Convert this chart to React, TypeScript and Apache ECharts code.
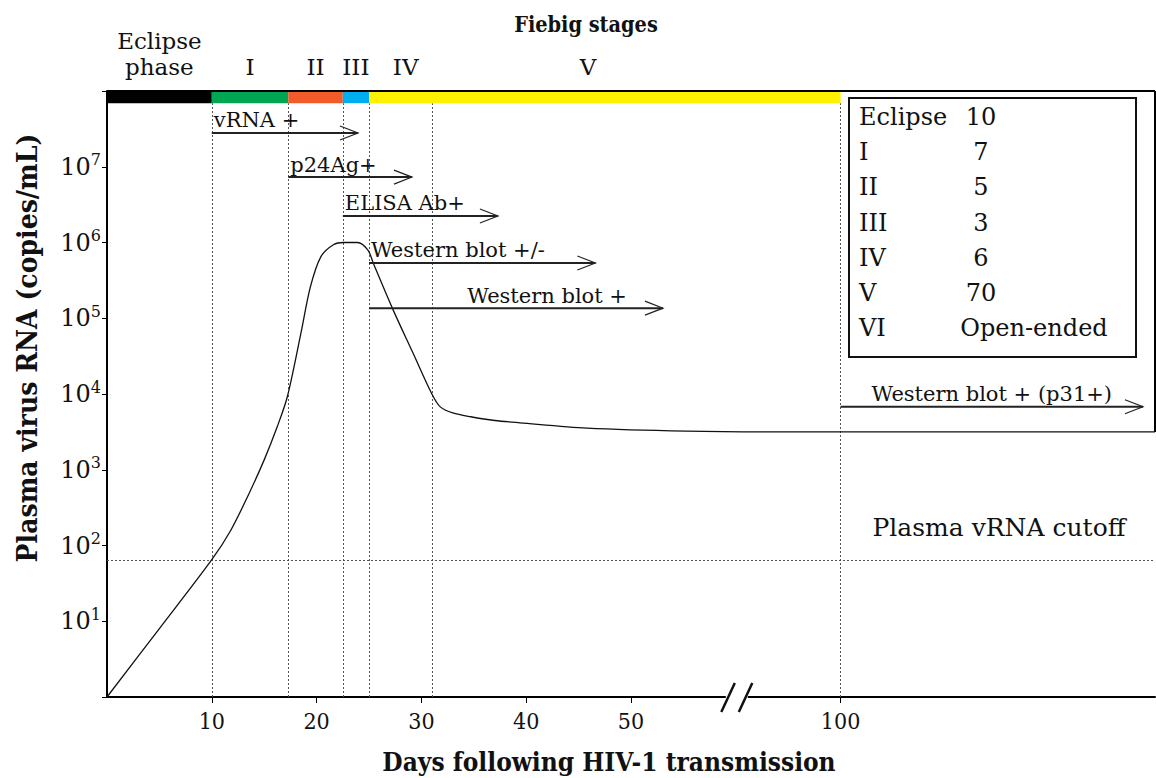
import React, { useEffect, useRef } from "react";
import * as echarts from "echarts";

const SERIF = '"DejaVu Serif", "Liberation Serif", serif';
const SERIF_COND = '"DejaVu Serif Condensed", "DejaVu Serif", serif';

// ---- data ----
// x positions on the broken day axis (values beyond the break: 70 marks day 100)
const curveX = [0, 5, 10, 11.8, 13.4, 15.0, 16.25, 17.2, 18.5, 19.4, 20.4, 21.6, 22.6, 23.9, 24.9, 25.4, 27.3, 29.2, 31, 31.8, 33, 34.7, 37, 39.4, 45.8, 55.3, 65, 70, 100];
const curveCopies = [1, 8, 65, 158, 437, 1350, 3715, 9120, 63000, 257000, 646000, 933000, 1000000, 1000000, 794000, 537000, 129000, 34700, 10000, 6760, 5620, 5010, 4470, 4170, 3550, 3240, 3160, 3160, 3160];

const xTickPositions = [10, 20, 30, 40, 50, 70];
const xTickLabels = ["10", "20", "30", "40", "50", "100"];
const yTickExponents = [1, 2, 3, 4, 5, 6, 7];

const stageBounds = [0, 10, 17.3, 22.5, 25, 70];
const stageColors = ["#000000", "#00a651", "#f15a29", "#00aeef", "#fff200"];
const stageLabels = ["Eclipse\nphase", "I", "II", "III", "IV", "V"];
const stageLabelX = [5, 13.65, 19.9, 23.75, 28.5, 45.9];
const boundaryLines = [10, 17.3, 22.5, 25, 31, 70];

const arrowLabels = ["vRNA +", "p24Ag+", "ELISA Ab+", "Western blot +/-", "Western blot +", "Western blot + (p31+)"];
const arrowStart = [10, 17.3, 22.5, 25, 25, 70];
const arrowEnd = [23.95, 29.1, 37.3, 46.6, 53.05, 98.85];
const arrowLevel = [2.79e7, 7.3e6, 2.24e6, 5.37e5, 1.36e5, 6800];
const arrowLabelAlign = ["left", "left", "left", "left", "right", "center"];

const cutoffCopies = 64;
const breakAt = 60;

const legendStages = ["Eclipse", "I", "II", "III", "IV", "V", "VI"];
const legendDurations = ["10", "7", "5", "3", "6", "70", "Open-ended"];

const Y_MIN = 1;
const Y_MAX = 1e8;
const BAR_BOTTOM = 6.9e7;

export default function App() {
  const ref = useRef<HTMLDivElement>(null);
  useEffect(() => {
    if (!ref.current) return;
    const chart = echarts.init(ref.current, undefined, { renderer: "svg" });

    const dash = { type: [2, 2] as any, color: "#555", width: 1 };

    const legendChildren: any[] = [
      { type: "rect", shape: { x: 849, y: 98, width: 287, height: 259 }, style: { fill: "#fff", stroke: "#111", lineWidth: 2 } },
    ];
    legendStages.forEach((s, i) => {
      const y = 117 + i * 35.2;
      legendChildren.push({ type: "text", x: 859, y, style: { text: s, font: `24px ${SERIF}`, fill: "#111", align: "left", verticalAlign: "middle" } });
      const open = legendDurations[i].length > 3;
      legendChildren.push({ type: "text", x: open ? 1034 : 981, y, style: { text: legendDurations[i], font: `24px ${SERIF}`, fill: "#111", align: "center", verticalAlign: "middle" } });
    });

    chart.setOption({
      animation: false,
      grid: { left: 107, right: 1, top: 91, bottom: 81 },
      xAxis: {
        type: "value",
        min: 0,
        max: 100,
        interval: 10,
        splitLine: { show: false },
        axisLine: { lineStyle: { color: "#000", width: 2 } },
        axisTick: { customValues: xTickPositions, length: 6, lineStyle: { color: "#000", width: 1 } },
        axisLabel: {
          customValues: xTickPositions,
          margin: 12,
          formatter: (v: number) => {
            const i = xTickPositions.indexOf(v);
            return i >= 0 ? xTickLabels[i] : "";
          },
          fontFamily: SERIF_COND,
          fontSize: 23,
          color: "#111",
        },
      },
      yAxis: {
        type: "log",
        logBase: 10,
        min: Y_MIN,
        max: Y_MAX,
        splitLine: { show: false },
        axisLine: { lineStyle: { color: "#000", width: 2 } },
        axisTick: { length: 5, lineStyle: { color: "#000", width: 1 } },
        axisLabel: {
          margin: 6,
          formatter: (v: number) => {
            const e = Math.round(Math.log10(v));
            if (yTickExponents.indexOf(e) < 0) return "";
            return `{b|10}{s|${e}}`;
          },
          rich: {
            b: { fontFamily: SERIF, fontSize: 24, color: "#111", lineHeight: 30 },
            s: { fontFamily: SERIF, fontSize: 16, color: "#111", verticalAlign: "top", lineHeight: 30 },
          },
        },
      },
      graphic: [
        { type: "text", x: 586, y: 24, style: { text: "Fiebig stages", font: `bold 21.5px ${SERIF_COND}`, fill: "#111", align: "center", verticalAlign: "middle" } },
        { type: "text", x: 609, y: 762, style: { text: "Days following HIV-1 transmission", font: `bold 26px ${SERIF_COND}`, fill: "#111", align: "center", verticalAlign: "middle" } },
        { type: "text", x: 27, y: 348, rotation: Math.PI / 2, style: { text: "Plasma virus RNA (copies/mL)", font: `bold 28px ${SERIF_COND}`, fill: "#111", align: "center", verticalAlign: "middle" } },
        { type: "text", x: 999, y: 527, style: { text: "Plasma vRNA cutoff", font: `25px ${SERIF}`, fill: "#111", align: "center", verticalAlign: "middle" } },
        { type: "group", children: legendChildren },
      ],
      series: [
        {
          type: "line",
          data: curveX.map((x, i) => [x, curveCopies[i]]),
          smooth: 0.3,
          showSymbol: false,
          clip: false,
          z: 5,
          lineStyle: { color: "#111", width: 1.3 },
          markLine: {
            symbol: "none",
            silent: true,
            label: { show: false },
            lineStyle: dash,
            data: [
              ...boundaryLines.map((x) => [{ coord: [x, Y_MIN] }, { coord: [x, BAR_BOTTOM] }]),
              [{ coord: [0, cutoffCopies] }, { coord: [100, cutoffCopies] }],
              [{ coord: [0, Y_MAX], lineStyle: { type: "solid", color: "#000", width: 2 } }, { coord: [100, Y_MAX] }],
              [{ coord: [100, Y_MAX], lineStyle: { type: "solid", color: "#000", width: 2 } }, { coord: [100, curveCopies[curveCopies.length - 1]] }],
            ],
          },
        },
        {
          type: "custom",
          clip: false,
          z: 6,
          data: stageColors.map((_, i) => [stageBounds[i], stageBounds[i + 1], i]),
          encode: { x: [0, 1] },
          renderItem: (params: any, api: any) => {
            const a = api.coord([api.value(0), Y_MAX]);
            const b = api.coord([api.value(1), BAR_BOTTOM]);
            return {
              type: "rect",
              shape: { x: a[0], y: a[1] + 1, width: b[0] - a[0], height: b[1] - a[1] - 1 },
              style: { fill: stageColors[params.dataIndex] },
            };
          },
        },
        {
          type: "custom",
          clip: false,
          z: 6,
          data: stageLabelX.map((x) => [x, Y_MAX]),
          renderItem: (params: any, api: any) => {
            const p = api.coord([api.value(0), api.value(1)]);
            return {
              type: "text",
              x: p[0],
              y: p[1] - 11,
              style: {
                text: stageLabels[params.dataIndex],
                font: `23px ${SERIF}`,
                lineHeight: 26,
                fill: "#111",
                align: "center",
                verticalAlign: "bottom",
              },
            };
          },
        },
        {
          type: "custom",
          clip: false,
          z: 7,
          data: arrowLabels.map((_, i) => [arrowStart[i], arrowEnd[i], arrowLevel[i]]),
          encode: { x: [0, 1], y: 2 },
          renderItem: (params: any, api: any) => {
            const i = params.dataIndex;
            const s = api.coord([api.value(0), api.value(2)]);
            const e = api.coord([api.value(1), api.value(2)]);
            const al = arrowLabelAlign[i];
            const tx = al === "left" ? s[0] + 2 : al === "right" ? e[0] - 36 : (s[0] + e[0]) / 2;
            return {
              type: "group",
              children: [
                { type: "line", shape: { x1: s[0], y1: s[1], x2: e[0], y2: e[1] }, style: { stroke: "#222", lineWidth: 2 } },
                { type: "polyline", shape: { points: [[e[0] - 18, e[1] - 7], [e[0], e[1]], [e[0] - 18, e[1] + 7]] }, style: { stroke: "#222", lineWidth: 1.2, fill: null } },
                { type: "text", x: tx, y: s[1] - 2, style: { text: arrowLabels[i], font: `21px ${SERIF}`, fill: "#111", align: al, verticalAlign: "bottom" } },
              ],
            };
          },
        },
        {
          type: "custom",
          clip: false,
          z: 8,
          data: [[breakAt, Y_MIN]],
          renderItem: (params: any, api: any) => {
            const p = api.coord([api.value(0), api.value(1)]);
            const c = p[0] + 1;
            const y = p[1];
            return {
              type: "group",
              children: [
                { type: "rect", shape: { x: c - 11, y: y - 3, width: 22, height: 6 }, style: { fill: "#fff" } },
                { type: "line", shape: { x1: c - 15.5, y1: y + 15, x2: c - 2, y2: y - 14 }, style: { stroke: "#111", lineWidth: 2.5 } },
                { type: "line", shape: { x1: c + 2, y1: y + 15, x2: c + 15.5, y2: y - 14 }, style: { stroke: "#111", lineWidth: 2.5 } },
              ],
            };
          },
        },
      ],
    });
    return () => chart.dispose();
  }, []);
  return <div ref={ref} style={{ position: "fixed", left: 0, top: 0, width: 1156, height: 778, background: "#fff" }} />;
}
